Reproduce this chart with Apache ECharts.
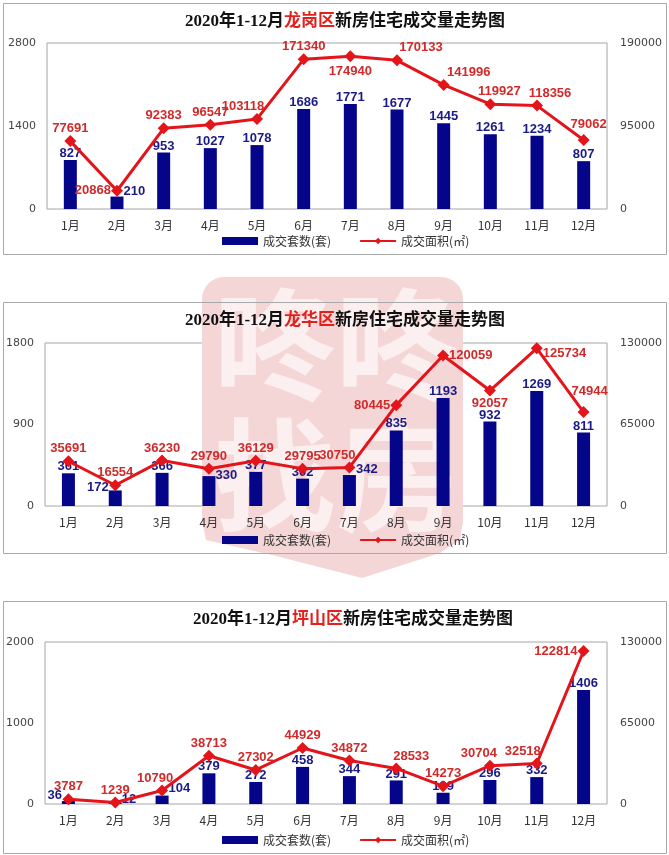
<!DOCTYPE html>
<html>
<head>
    <meta charset="utf-8">
    <title>2020年1-12月 新房住宅成交量走势图</title>
    <style>
        html, body { margin: 0; padding: 0; background: #fff; }
        #main { width: 669px; height: 855px; }
    </style>
</head>
<body>
    <div id="main"></div>
    <script src="https://cdn.jsdelivr.net/npm/echarts@6/dist/echarts.min.js"></script>
    <script>
    // 月份
    var months = ['1月', '2月', '3月', '4月', '5月', '6月', '7月', '8月', '9月', '10月', '11月', '12月'];

    // 龙岗区
    var lgUnits = [827, 210, 953, 1027, 1078, 1686, 1771, 1677, 1445, 1261, 1234, 807];
    var lgArea = [77691, 20868, 92383, 96547, 103118, 171340, 174940, 170133, 141996, 119927, 118356, 79062];
    var lgLeftTicks = [0, 1400, 2800];
    var lgRightTicks = [0, 95000, 190000];

    // 龙华区
    var lhUnits = [361, 172, 366, 330, 377, 302, 342, 835, 1193, 932, 1269, 811];
    var lhArea = [35691, 16554, 36230, 29790, 36129, 29795, 30750, 80445, 120059, 92057, 125734, 74944];
    var lhLeftTicks = [0, 900, 1800];
    var lhRightTicks = [0, 65000, 130000];

    // 坪山区
    var psUnits = [36, 12, 104, 379, 272, 458, 344, 291, 139, 296, 332, 1406];
    var psArea = [3787, 1239, 10790, 38713, 27302, 44929, 34872, 28533, 14273, 30704, 32518, 122814];
    var psLeftTicks = [0, 1000, 2000];
    var psRightTicks = [0, 65000, 130000];

    var barName = '成交套数(套)';
    var lineName = '成交面积(㎡)';

    // 每个面板的布局和个别标签的位置
    var panels = [
        {
            district: '龙岗区', units: lgUnits, area: lgArea, leftTicks: lgLeftTicks, rightTicks: lgRightTicks,
            box: [3, 3, 663, 251], gridLeft: 47, gridTop: 43, gridBottom: 209, titleX: 345, titleY: 23, legendY: 242,
            barLabels: {1: {position: 'right', offset: [0, -11]}},
            lineLabels: {
                1: {position: 'left'}, 4: {offset: [-14, 0]}, 6: {position: 'bottom', offset: [0, 3]},
                7: {offset: [24, 0]}, 8: {offset: [25, 0]}, 9: {offset: [9, 0]}, 10: {offset: [13, 0]}, 11: {offset: [5, -3]}
            }
        },
        {
            district: '龙华区', units: lhUnits, area: lhArea, leftTicks: lhLeftTicks, rightTicks: lhRightTicks,
            box: [3, 302, 663, 251], gridLeft: 45, gridTop: 343, gridBottom: 506, titleX: 345, titleY: 322, legendY: 541,
            barLabels: {
                1: {position: 'left', offset: [0, -11]}, 3: {position: 'right', offset: [0, -16]},
                6: {position: 'right', offset: [0, -21]}
            },
            lineLabels: {
                6: {offset: [-12, 0]}, 7: {position: 'left'}, 8: {position: 'right'}, 9: {position: 'bottom'},
                10: {position: 'right', offset: [0, 5]}, 11: {offset: [6, -8]}
            }
        },
        {
            district: '坪山区', units: psUnits, area: psArea, leftTicks: psLeftTicks, rightTicks: psRightTicks,
            box: [3, 601, 663, 252], gridLeft: 45, gridTop: 642, gridBottom: 804, titleX: 353, titleY: 621, legendY: 841,
            barLabels: {
                0: {position: 'left', offset: [0, -7]}, 1: {position: 'right', offset: [0, -4]},
                2: {position: 'right', offset: [0, -11]}
            },
            lineLabels: {
                2: {offset: [-7, 0]}, 7: {offset: [15, 0]}, 9: {offset: [-11, 0]}, 10: {offset: [-14, 0]},
                11: {position: 'left'}
            }
        }
    ];

    function withLabels(values, overrides) {
        return values.map(function (v, i) {
            return overrides[i] ? {value: v, label: overrides[i]} : v;
        });
    }

    function plain(v) { return String(v); }

    var option = {
        animation: false,
        backgroundColor: '#fff',
        title: [], legend: [], grid: [], xAxis: [], yAxis: [], series: [],
        graphic: [
            // 背景水印
            {
                type: 'group', z: 0, silent: true,
                children: [
                    {
                        type: 'rect',
                        shape: {x: 202, y: 277, width: 261, height: 265, r: 22},
                        style: {fill: '#f4d6d6'}
                    },
                    {
                        type: 'polygon',
                        shape: {points: [[202, 520], [463, 520], [460, 540], [440, 553], [362, 578], [276, 556], [206, 540]]},
                        style: {fill: '#f4d6d6'}
                    },
                    {
                        type: 'text', x: 336, y: 345,
                        style: {text: '咚咚', fill: '#fcefef', fontSize: 122, fontWeight: 'bold',
                            fontFamily: 'Noto Sans CJK SC', align: 'center', verticalAlign: 'middle'}
                    },
                    {
                        type: 'text', x: 336, y: 475,
                        style: {text: '找房', fill: '#fcefef', fontSize: 122, fontWeight: 'bold',
                            fontFamily: 'Noto Sans CJK SC', align: 'center', verticalAlign: 'middle'}
                    }
                ]
            }
        ]
    };

    panels.forEach(function (p, i) {
        // 外框
        option.graphic.push({
            type: 'rect', z: 1, silent: true,
            shape: {x: p.box[0] + 0.5, y: p.box[1] + 0.5, width: p.box[2], height: p.box[3]},
            style: {fill: 'none', stroke: '#a9a9a9', lineWidth: 1}
        });

        option.title.push({
            text: '{a|2020年1-12月}{b|' + p.district + '}{a|新房住宅成交量走势图}',
            left: p.titleX, top: p.titleY - 10, textAlign: 'center', padding: 0,
            textStyle: {
                rich: {
                    a: {fontFamily: "'Liberation Serif', 'Noto Sans CJK SC'", fontSize: 17, fontWeight: 'bold', color: '#111'},
                    b: {fontFamily: "'Liberation Serif', 'Noto Sans CJK SC'", fontSize: 17, fontWeight: 'bold', color: '#e3201c'}
                }
            }
        });

        option.legend.push({
            data: [{name: barName, icon: 'rect'}, lineName],
            left: 222, top: p.legendY - 7, padding: 0,
            itemWidth: 36, itemHeight: 8, itemGap: 28,
            selectedMode: false,
            textStyle: {fontFamily: 'Noto Sans CJK SC', fontSize: 12, color: '#333'}
        });

        option.grid.push({
            left: p.gridLeft, right: 62, top: p.gridTop, height: p.gridBottom - p.gridTop,
            show: true, borderColor: '#a6a6a6', borderWidth: 1, backgroundColor: 'transparent'
        });

        option.xAxis.push({
            gridIndex: i, type: 'category', data: months,
            axisLine: {show: false}, axisTick: {show: false},
            axisLabel: {margin: 10, fontSize: 12, color: '#333', fontFamily: 'Noto Sans CJK SC'}
        });

        var yBase = {
            gridIndex: i, type: 'value',
            axisLine: {show: false}, axisTick: {show: false}, splitLine: {show: false}
        };
        option.yAxis.push(Object.assign({}, yBase, {
            position: 'left',
            min: p.leftTicks[0], max: p.leftTicks[p.leftTicks.length - 1], interval: p.leftTicks[1] - p.leftTicks[0],
            axisLabel: {margin: 11, fontSize: 11, color: '#444', fontFamily: 'DejaVu Sans', formatter: plain}
        }));
        option.yAxis.push(Object.assign({}, yBase, {
            position: 'right',
            min: p.rightTicks[0], max: p.rightTicks[p.rightTicks.length - 1], interval: p.rightTicks[1] - p.rightTicks[0],
            axisLabel: {margin: 13, fontSize: 11, color: '#444', fontFamily: 'DejaVu Sans', formatter: plain}
        }));

        option.series.push({
            name: barName, type: 'bar',
            xAxisIndex: i, yAxisIndex: i * 2,
            barWidth: 13,
            itemStyle: {color: '#05058a'},
            label: {
                show: true, position: 'top', distance: 0,
                fontFamily: 'Liberation Sans', fontSize: 13, fontWeight: 'bold', color: '#1b1b86'
            },
            data: withLabels(p.units, p.barLabels)
        });

        option.series.push({
            name: lineName, type: 'line',
            xAxisIndex: i, yAxisIndex: i * 2 + 1,
            symbol: 'diamond', symbolSize: 12,
            itemStyle: {color: '#e3141a'},
            lineStyle: {width: 3, color: '#e3141a'},
            label: {
                show: true, position: 'top', distance: 0,
                fontFamily: 'Liberation Sans', fontSize: 13, fontWeight: 'bold', color: '#d02a2a'
            },
            data: withLabels(p.area, p.lineLabels),
            z: 3
        });
    });

    var myChart = echarts.init(document.getElementById('main'));
    myChart.setOption(option);
    </script>
</body>
</html>
